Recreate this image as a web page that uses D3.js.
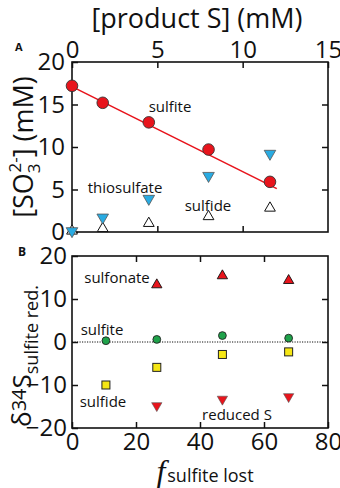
<!DOCTYPE html>
<html>
<head>
<meta charset="utf-8">
<script src="https://cdn.jsdelivr.net/npm/d3@7"></script>
<style>
body { margin: 0; background: #fff; }
text { font-family: "Open Sans", sans-serif; fill: #111; }
</style>
</head>
<body>
<script>
// panel A: concentrations vs product S
var productS = [0, 1.8, 4.5, 8.0, 11.6];
var sulfiteA = [17.2, 15.2, 12.9, 9.7, 5.9];
var thiosulfateA = [0, 1.6, 3.8, 6.5, 9.1];
var sulfideA = [0, 0.3, 0.9, 1.7, 2.7];
var sulfiteFit = [[0, 17.1], [12, 5.1]];

// panel B: d34S vs fraction of sulfite lost
var fLost = [10.6, 26.5, 47, 67.7];
var sulfonateB = [null, 13.3, 15.4, 14.3];
var sulfiteB = [0.3, 0.6, 1.5, 0.9];
var sulfideB = [-10, -5.9, -2.9, -2.3];
var reducedB = [null, -14.8, -13.3, -12.7];

var ticksXA = [0, 5, 10, 15];
var ticksYA = [0, 5, 10, 15, 20];
var ticksXB = [0, 20, 40, 60, 80];
var ticksYB = [-20, -10, 0, 10, 20];

var W = 340, H = 488;
var left = 72, right = 328;
var topA = 62, botA = 232, topB = 256, botB = 428;

var svg = d3.select('body').append('svg')
  .attr('width', W)
  .attr('height', H);

var xA = d3.scaleLinear().domain([0, 15]).range([left, right]);
var yA = d3.scaleLinear().domain([0, 20]).range([botA, topA]);
var xB = d3.scaleLinear().domain([0, 80]).range([left, right]);
var yB = d3.scaleLinear().domain([-20, 20]).range([botB, topB]);

function styleAxis(g) {
  g.select('.domain').remove();
  g.selectAll('line').attr('stroke', '#111').attr('stroke-width', 1.5);
  g.selectAll('text').style('font-size', '24px').attr('fill', '#111');
}

// axes A
svg.append('g').attr('transform', 'translate(0,' + topA + ')')
  .call(d3.axisTop(xA).tickValues(ticksXA).tickSize(-6).tickPadding(4))
  .call(styleAxis);
svg.append('g').attr('transform', 'translate(0,' + botA + ')')
  .call(d3.axisBottom(xA).tickValues(ticksXA.slice(1, 3)).tickSize(-6).tickFormat(''))
  .call(styleAxis);
svg.append('g').attr('transform', 'translate(' + left + ',0)')
  .call(d3.axisLeft(yA).tickValues(ticksYA).tickSize(-6).tickPadding(7))
  .call(styleAxis);
svg.append('g').attr('transform', 'translate(' + right + ',0)')
  .call(d3.axisRight(yA).tickValues(ticksYA.slice(1, 4)).tickSize(-6).tickFormat(''))
  .call(styleAxis);

// axes B
svg.append('g').attr('transform', 'translate(0,' + botB + ')')
  .call(d3.axisBottom(xB).tickValues(ticksXB).tickSize(-6).tickPadding(5))
  .call(styleAxis);
svg.append('g').attr('transform', 'translate(0,' + topB + ')')
  .call(d3.axisTop(xB).tickValues(ticksXB.slice(1, 4)).tickSize(-6).tickFormat(''))
  .call(styleAxis);
svg.append('g').attr('transform', 'translate(' + left + ',0)')
  .call(d3.axisLeft(yB).tickValues(ticksYB).tickSize(-6).tickPadding(5))
  .call(styleAxis);
svg.append('g').attr('transform', 'translate(' + right + ',0)')
  .call(d3.axisRight(yB).tickValues(ticksYB.slice(1, 4)).tickSize(-6).tickFormat(''))
  .call(styleAxis);

// frames
[[topA, botA], [topB, botB]].forEach(function(p) {
  svg.append('rect')
    .attr('x', left).attr('y', p[0])
    .attr('width', right - left).attr('height', p[1] - p[0])
    .attr('fill', 'none').attr('stroke', '#111').attr('stroke-width', 1.6);
});

// ---- panel A marks
svg.append('path')
  .datum(sulfiteFit)
  .attr('d', d3.line().x(d => xA(d[0])).y(d => yA(d[1])))
  .attr('fill', 'none').attr('stroke', '#e8141c').attr('stroke-width', 1.6);

function pts(xs, ys) {
  return xs.map((x, i) => [x, ys[i]]).filter(d => d[1] != null);
}

var triA = d3.symbol().type(d3.symbolTriangle).size(50);
var triT = d3.symbol().type(d3.symbolTriangle).size(58);
svg.selectAll('.sulfideA').data(pts(productS, sulfideA)).enter().append('path')
  .attr('d', triA)
  .attr('transform', d => 'translate(' + xA(d[0]) + ',' + (yA(d[1]) - 1) + ')')
  .attr('fill', '#fff').attr('stroke', '#111').attr('stroke-width', 1);
svg.selectAll('.thioA').data(pts(productS, thiosulfateA)).enter().append('path')
  .attr('d', triT)
  .attr('transform', d => 'translate(' + xA(d[0]) + ',' + (yA(d[1]) - 1) + ') rotate(180)')
  .attr('fill', '#29abe2').attr('stroke', '#555').attr('stroke-width', 0.8);
svg.selectAll('.sulfiteA').data(pts(productS, sulfiteA)).enter().append('circle')
  .attr('cx', d => xA(d[0])).attr('cy', d => yA(d[1]))
  .attr('r', 5.8)
  .attr('fill', '#e8141c').attr('stroke', '#333').attr('stroke-width', 0.9);

// ---- panel B marks
svg.append('line')
  .attr('x1', left).attr('x2', right)
  .attr('y1', yB(0)).attr('y2', yB(0))
  .attr('stroke', '#111').attr('stroke-width', 1).attr('stroke-dasharray', '1.2,1.3');

var triB = d3.symbol().type(d3.symbolTriangle).size(46);
svg.selectAll('.sulfonateB').data(pts(fLost, sulfonateB)).enter().append('path')
  .attr('d', triB)
  .attr('transform', d => 'translate(' + xB(d[0]) + ',' + yB(d[1]) + ')')
  .attr('fill', '#e8141c').attr('stroke', '#111').attr('stroke-width', 0.9);
svg.selectAll('.reducedB').data(pts(fLost, reducedB)).enter().append('path')
  .attr('d', triB)
  .attr('transform', d => 'translate(' + xB(d[0]) + ',' + yB(d[1]) + ') rotate(180)')
  .attr('fill', '#e8141c').attr('stroke', '#555').attr('stroke-width', 0.6);
svg.selectAll('.sulfideB').data(pts(fLost, sulfideB)).enter().append('rect')
  .attr('x', d => xB(d[0]) - 4).attr('y', d => yB(d[1]) - 4)
  .attr('width', 8).attr('height', 8)
  .attr('fill', '#f5e614').attr('stroke', '#222').attr('stroke-width', 1);
svg.selectAll('.sulfiteB').data(pts(fLost, sulfiteB)).enter().append('circle')
  .attr('cx', d => xB(d[0])).attr('cy', d => yB(d[1]))
  .attr('r', 3.9)
  .attr('fill', '#1fa24a').attr('stroke', '#222').attr('stroke-width', 0.9);

// series labels
function label(x, y, t) {
  svg.append('text').attr('x', x).attr('y', y)
    .attr('text-anchor', 'middle').style('font-size', '15px').text(t);
}
label(170, 112, 'sulfite');
label(125, 193, 'thiosulfate');
label(208, 211, 'sulfide');
label(117, 283, 'sulfonate');
label(102, 335, 'sulfite');
label(103, 407, 'sulfide');
label(237, 420, 'reduced S');

// panel letters
svg.append('text').attr('x', 15).attr('y', 51)
  .style('font-size', '11px').style('font-weight', 'bold').text('A');
svg.append('text').attr('x', 18).attr('y', 256)
  .style('font-size', '12px').style('font-weight', 'bold').text('B');

// axis titles
svg.append('text').attr('x', 197).attr('y', 28)
  .attr('text-anchor', 'middle').style('font-size', '27px').text('[product S] (mM)');

var ya = svg.append('text')
  .attr('transform', 'translate(33,147) rotate(-90)')
  .attr('text-anchor', 'middle').style('font-size', '27px');
ya.append('tspan').text('[SO');
ya.append('tspan').attr('dy', 7).style('font-size', '17px').text('3');
ya.append('tspan').attr('dx', -9).attr('dy', -19).style('font-size', '17px').text('2-');
ya.append('tspan').attr('dy', 12).text('] (mM)');

var yb = svg.append('text')
  .attr('transform', 'translate(31,356) rotate(-90)')
  .attr('text-anchor', 'middle').style('font-size', '26px');
yb.append('tspan').text('δ');
yb.append('tspan').attr('dy', -5).style('font-size', '20px').text('34');
yb.append('tspan').attr('dy', 5).text('S');
yb.append('tspan').attr('dy', 7).style('font-size', '18px').text('sulfite red.');

var xb = svg.append('text').attr('x', 205).attr('y', 482)
  .attr('text-anchor', 'middle');
xb.append('tspan').style('font-family', '"Liberation Serif", serif')
  .style('font-style', 'italic').style('font-size', '32px').text('f');
xb.append('tspan').attr('dx', 2).style('font-size', '18px').text('sulfite lost');
</script>
</body>
</html>
